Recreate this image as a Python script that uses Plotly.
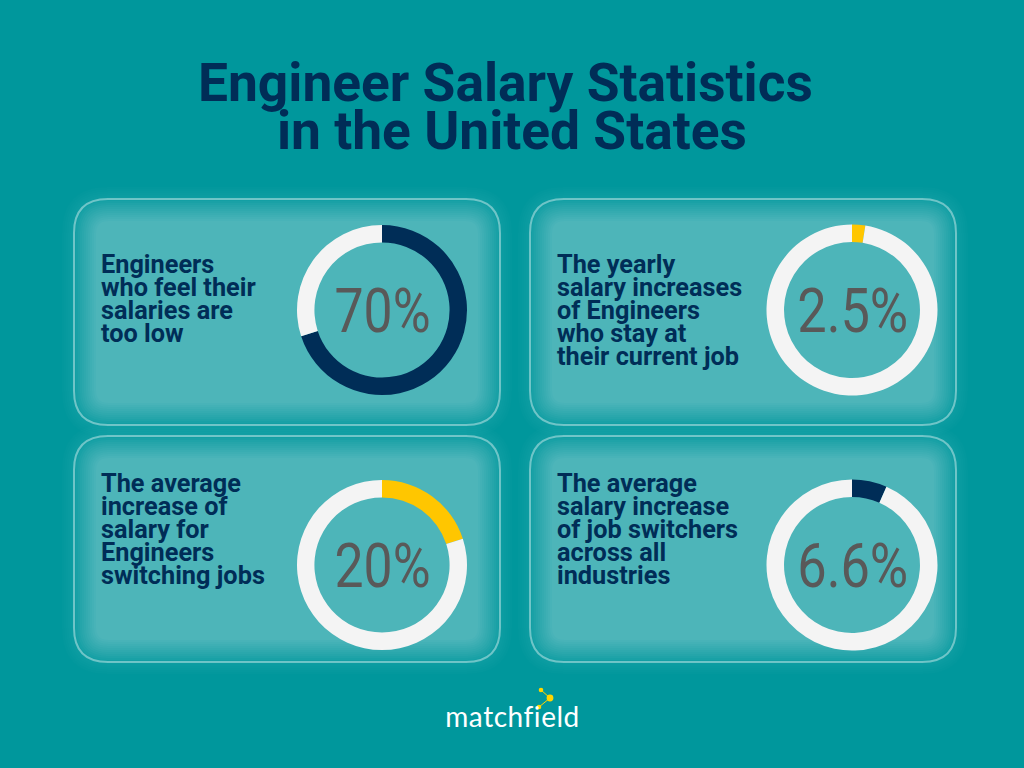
import plotly.graph_objects as go

W, H = 1024, 768
BG = "#00979C"
NAVY = "#002D57"
YELLOW = "#FFC600"
RING = "#F4F4F4"
GREY = "#595959"

# data
percent_values = [70, 2.5, 20, 6.6]
percent_labels = ["70%", "2.5%", "20%", "6.6%"]
arc_colors = [NAVY, YELLOW, YELLOW, NAVY]
title_lines = ["Engineer Salary Statistics", "in the United States"]
card_texts = [
    ["Engineers", "who feel their", "salaries are", "too low"],
    ["The yearly", "salary increases", "of Engineers", "who stay at", "their current job"],
    ["The average", "increase of", "salary for", "Engineers", "switching jobs"],
    ["The average", "salary increase", "of job switchers", "across all", "industries"],
]

# layout
cards = [(74, 199, 500, 425), (530, 199, 956, 425), (74, 436, 500, 662), (530, 436, 956, 662)]
centers = [(382, 310), (852, 310), (382, 565), (852, 565)]
radii = [85, 85.5, 85, 85.5]
text_top = [264, 264, 483, 483]
text_x = [99, 555, 99, 555]


def rr(x0, y0, x1, y1, r):
    r = max(r, 1)
    return (f"M{x0+r},{H-y0} L{x1-r},{H-y0} Q{x1},{H-y0} {x1},{H-y0-r} L{x1},{H-y1+r} "
            f"Q{x1},{H-y1} {x1-r},{H-y1} L{x0+r},{H-y1} Q{x0},{H-y1} {x0},{H-y1+r} "
            f"L{x0},{H-y0-r} Q{x0},{H-y0} {x0+r},{H-y0} Z")


fig = go.Figure()
shapes = []
annotations = []

for (x0, y0, x1, y1) in cards:
    for d in range(-12, 0, 2):
        shapes.append(dict(type="path", xref="x", yref="y", layer="below", line_width=0,
                           path=rr(x0+d, y0+d, x1-d, y1-d, 34-d),
                           fillcolor="rgba(255,255,255,0.010)"))
    for d in range(0, 24, 2):
        shapes.append(dict(type="path", xref="x", yref="y", layer="below", line_width=0,
                           path=rr(x0+d, y0+d, x1-d, y1-d, 34-d),
                           fillcolor="rgba(255,255,255,0.026)"))
    shapes.append(dict(type="path", xref="x", yref="y", layer="below",
                       path=rr(x0, y0, x1, y1, 34), fillcolor="rgba(0,0,0,0)",
                       line=dict(color="rgba(255,255,255,0.40)", width=2)))

for v, col, (cx, cy), r, lab in zip(percent_values, arc_colors, centers, radii, percent_labels):
    fig.add_trace(go.Pie(
        values=[v, 100 - v], sort=False, direction="clockwise", rotation=0,
        hole=0.795, textinfo="none", hoverinfo="skip", showlegend=False,
        marker=dict(colors=[col, RING], line=dict(width=0)),
        domain=dict(x=[(cx-r)/W, (cx+r)/W], y=[1-(cy+r)/H, 1-(cy-r)/H]),
    ))
    annotations.append(dict(x=cx, y=H-cy, xref="x", yref="y", text=lab, showarrow=False,
                            xanchor="center", yanchor="middle",
                            font=dict(family="Roboto", size=62, color=GREY, weight=400)))

for i, line in enumerate(title_lines):
    annotations.append(dict(x=W/2+(-6.5 if i == 0 else -0.5), y=H-(83+48*i), xref="x", yref="y", text=line,
                            showarrow=False, xanchor="center", yanchor="middle",
                            font=dict(family="Roboto", size=53.3, color=NAVY, weight=700)))

for lines, x, top in zip(card_texts, text_x, text_top):
    for i, line in enumerate(lines):
        annotations.append(dict(x=x, y=H-(top+23*i), xref="x", yref="y", text=line, showarrow=False,
                                xanchor="left", yanchor="middle",
                                font=dict(family="Roboto", size=25.3, color=NAVY, weight=700)))

annotations.append(dict(x=512, y=H-716, xref="x", yref="y", text="matchfield", showarrow=False,
                        xanchor="center", yanchor="middle",
                        font=dict(family="Lato", size=28, color="white", weight=400)))

# logo nodes
logo_dots = [(541, 690, 2.3), (550, 698, 3.4), (539, 707, 2.3)]
for a, b in [(logo_dots[0], logo_dots[1]), (logo_dots[1], logo_dots[2])]:
    shapes.append(dict(type="line", xref="x", yref="y", x0=a[0], y0=H-a[1], x1=b[0], y1=H-b[1],
                       line=dict(color="#FFD500", width=1), layer="above"))
for x, y, r in logo_dots:
    shapes.append(dict(type="circle", xref="x", yref="y", x0=x-r, x1=x+r, y0=H-y-r, y1=H-y+r,
                       fillcolor="#FFD500", line_width=0, layer="above"))

fig.update_layout(
    width=W, height=H, margin=dict(l=0, r=0, t=0, b=0), paper_bgcolor=BG, plot_bgcolor=BG,
    xaxis=dict(range=[0, W], visible=False, fixedrange=True),
    yaxis=dict(range=[0, H], visible=False, fixedrange=True),
    shapes=shapes, annotations=annotations, showlegend=False,
)
post = """
document.body.style.margin='0';document.documentElement.style.overflow='hidden';
document.body.style.background='%s';
var widths={'70%%':96,'20%%':96,'2.5%%':111,'6.6%%':111,'matchfield':134};
document.querySelectorAll('.annotation-text').forEach(function(t){
  var w=widths[t.textContent];
  if(t.textContent==='matchfield'){t.style.fontVariantLigatures='none';}
  if(w){t.setAttribute('textLength',w);t.setAttribute('lengthAdjust',t.textContent==='matchfield'?'spacing':'spacingAndGlyphs');}
});
""" % BG
fig.write_html("out.html", post_script=post, config=dict(displayModeBar=False))
